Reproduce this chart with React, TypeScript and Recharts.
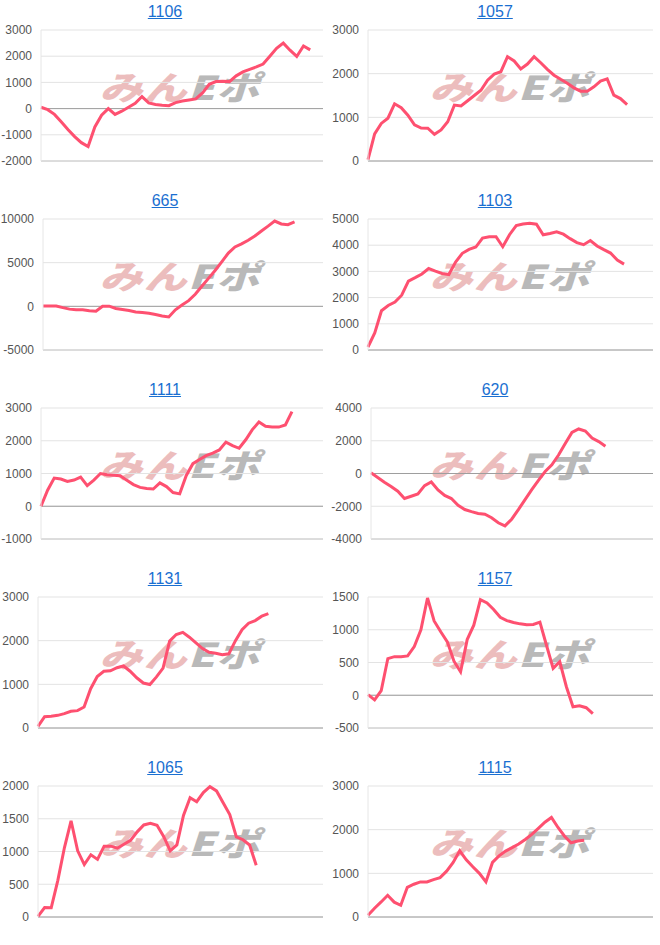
import React from "react";
import { LineChart, Line, XAxis, YAxis, CartesianGrid, ReferenceLine } from "recharts";

// ── Values ────────────────────────────────────────────────────────────────────

const TITLES = ["1106", "1057", "665", "1103", "1111", "620", "1131", "1157", "1065", "1115"];

const S1106 = [50, -40, -220, -500, -800, -1070, -1300, -1450, -700, -250, 0, -220, -100, 50, 200, 460, 220, 160, 130, 110, 230, 290, 330, 370, 600, 930, 1030, 1040, 1030, 1250, 1400, 1500, 1590, 1700, 2000, 2300, 2500, 2230, 1990, 2390, 2240];
const S1057 = [30, 620, 860, 980, 1310, 1220, 1050, 830, 754, 750, 610, 710, 900, 1280, 1260, 1380, 1500, 1620, 1850, 1990, 2045, 2390, 2290, 2110, 2220, 2390, 2250, 2100, 1965, 1870, 1780, 1675, 1600, 1600, 1700, 1830, 1880, 1510, 1430, 1290];
const S665 = [40, 40, 40, -150, -320, -380, -380, -510, -570, 0, 20, -250, -360, -480, -640, -700, -790, -930, -1100, -1220, -400, 150, 650, 1380, 2300, 3200, 4100, 5100, 6100, 6800, 7150, 7560, 8050, 8620, 9180, 9770, 9430, 9350, 9660];
const S1103 = [115, 650, 1500, 1700, 1830, 2090, 2630, 2760, 2900, 3110, 3010, 2920, 2880, 3360, 3690, 3840, 3930, 4270, 4324, 4324, 3941, 4400, 4750, 4810, 4834, 4800, 4400, 4450, 4510, 4420, 4250, 4100, 4020, 4180, 3970, 3830, 3700, 3430, 3278];
const S1111 = [0, 490, 860, 830, 755, 800, 888, 630, 800, 1000, 965, 949, 930, 790, 660, 575, 545, 525, 714, 600, 420, 378, 940, 1300, 1430, 1545, 1625, 1720, 1959, 1850, 1770, 2030, 2340, 2571, 2440, 2420, 2418, 2480, 2888];
const S620 = [40, -240, -530, -790, -1080, -1523, -1390, -1250, -740, -520, -1000, -1340, -1530, -1940, -2200, -2330, -2440, -2490, -2700, -3010, -3200, -2790, -2210, -1600, -990, -420, 120, 530, 1130, 1830, 2510, 2720, 2590, 2160, 1950, 1665];
const S1131 = [38, 260, 267, 290, 330, 384, 398, 480, 900, 1180, 1298, 1310, 1380, 1420, 1300, 1150, 1030, 995, 1170, 1370, 1990, 2140, 2190, 2080, 1950, 1820, 1735, 1710, 1680, 1700, 2000, 2250, 2400, 2460, 2560, 2618];
const S1157 = [10, -70, 70, 560, 589, 589, 600, 742, 1000, 1485, 1134, 970, 815, 520, 358, 850, 1070, 1459, 1410, 1310, 1190, 1140, 1110, 1090, 1075, 1080, 1116, 760, 410, 512, 130, -175, -160, -190, -282];
const S1065 = [10, 143, 140, 560, 1060, 1469, 1010, 800, 950, 880, 1082, 1082, 1050, 1110, 1170, 1300, 1405, 1430, 1400, 1230, 1010, 1100, 1550, 1820, 1760, 1900, 1990, 1925, 1745, 1565, 1224, 1180, 1100, 791];
const S1115 = [38, 200, 345, 497, 340, 268, 680, 750, 803, 803, 857, 903, 1050, 1250, 1515, 1310, 1150, 1000, 803, 1250, 1400, 1510, 1590, 1670, 1775, 1890, 2030, 2170, 2280, 2050, 1850, 1700, 1740, 1760];

const SERIES = [S1106, S1057, S665, S1103, S1111, S620, S1131, S1157, S1065, S1115];

// number of x slots the axis spans (the series stop before the right edge)
const SPANS = [41.9, 42.9, 42.3, 42.3, 42.7, 42.1, 43.3, 43.1, 43.1, 43.5];

const Y_TICKS = [
  [-2000, -1000, 0, 1000, 2000, 3000],
  [0, 1000, 2000, 3000],
  [-5000, 0, 5000, 10000],
  [0, 1000, 2000, 3000, 4000, 5000],
  [-1000, 0, 1000, 2000, 3000],
  [-4000, -2000, 0, 2000, 4000],
  [0, 1000, 2000, 3000],
  [-500, 0, 500, 1000, 1500],
  [0, 500, 1000, 1500, 2000],
  [0, 1000, 2000, 3000],
];

// ── Style ────────────────────────────────────────────────────────────────────

const LINE_COLOR = "#fe5070";
const FONT = "'Liberation Sans', Arial, sans-serif";
const PANEL_W = 330;
const PANEL_H = 189;

function Watermark() {
  return (
    <div
      style={{
        position: "absolute",
        left: 104,
        top: 62,
        fontFamily: "'Noto Sans CJK JP', sans-serif",
        fontWeight: 900,
        fontSize: 33,
        whiteSpace: "nowrap",
        transformOrigin: "left center",
        transform: "scale(1.3, 1) skewX(-14deg)",
        letterSpacing: 1,
      }}
    >
      <span style={{ color: "#ecbdbd" }}>みん</span>
      <span style={{ color: "#b9b9b9" }}>Eポ</span>
    </div>
  );
}

interface PanelProps {
  title: string;
  values: number[];
  span: number;
  ticks: number[];
}

function Panel({ title, values, span, ticks }: PanelProps) {
  const data = values.map((v, i) => ({ x: i, v }));
  const lo = ticks[0];
  const hi = ticks[ticks.length - 1];
  // Axis column is wider when a label has five characters
  const wide = ticks.some(t => String(t).length >= 5);
  const axisW = String(hi).length >= 5 ? 43 : wide ? 41 : 38;
  return (
    <div style={{ position: "relative", width: PANEL_W, height: PANEL_H }}>
      <div style={{ position: "absolute", top: 0, left: 0, width: PANEL_W, textAlign: "center", lineHeight: "24px" }}>
        <a href="#" style={{ color: "#1a6fd1", fontSize: 16, fontFamily: FONT }}>{title}</a>
      </div>
      <Watermark />
      <div style={{ position: "absolute", top: 0, left: 0 }}>
        <LineChart width={PANEL_W} height={PANEL_H} data={data} margin={{ top: 30, right: 7, bottom: 28, left: 0 }}>
          <CartesianGrid vertical={false} stroke="#e3e3e3" />
          <XAxis dataKey="x" type="number" domain={[0, span]} hide />
          <YAxis
            domain={[lo, hi]}
            ticks={ticks}
            interval={0}
            width={axisW}
            tickLine={false}
            tickMargin={3}
            axisLine={{ stroke: "#e6e6e6" }}
            tick={{ fontSize: 12, fill: "#555", fontFamily: FONT }}
          />
          {lo < 0 && <ReferenceLine y={lo} stroke="#c8c8c8" />}
          <ReferenceLine y={0} stroke="#9e9e9e" />
          <Line
            type="linear"
            dataKey="v"
            stroke={LINE_COLOR}
            strokeWidth={3}
            dot={false}
            isAnimationActive={false}
          />
        </LineChart>
      </div>
    </div>
  );
}

export default function App() {
  return (
    <div style={{ width: 660, display: "flex", flexWrap: "wrap" }}>
      <style>{`body{margin:0;background:#fff}`}</style>
      {TITLES.map((t, i) => (
        <Panel key={t} title={t} values={SERIES[i]} span={SPANS[i]} ticks={Y_TICKS[i]} />
      ))}
    </div>
  );
}
